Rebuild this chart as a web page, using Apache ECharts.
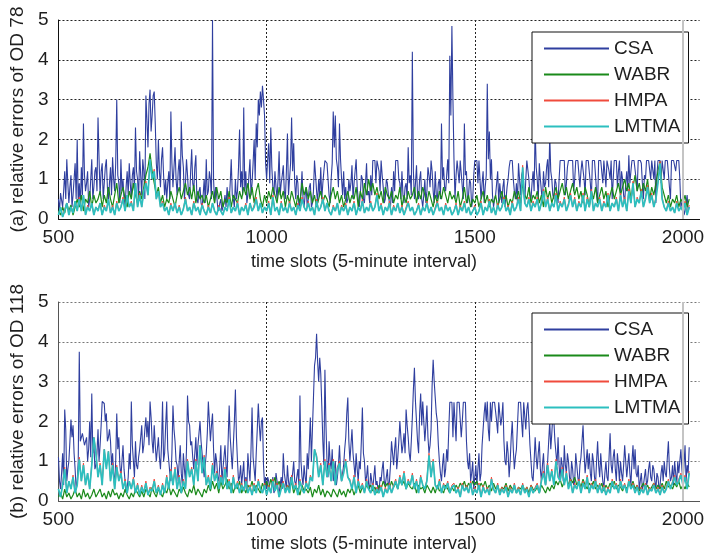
<!DOCTYPE html>
<html><head><meta charset="utf-8">
<script src="https://cdn.jsdelivr.net/npm/echarts@6/dist/echarts.min.js"></script>
<style>html,body{margin:0;padding:0;background:#fff}#c{width:707px;height:554px}</style>
</head><body><div id="c"></div>
<script>
// time slots: first slot and sampling step (every 5th slot; CSA also read half-way between)
const slotStart = 500;
const slotStep = 5;
const xTickValues = [500, 1000, 1500, 2000];
const seriesNames = ['CSA', 'WABR', 'HMPA', 'LMTMA'];
const yNames = ['(a) relative errors of OD 78', '(b) relative errors of OD 118'];
const xName = 'time slots (5-minute interval)';

// ---------- (a) OD 78 ----------
const csaA = [
0.5,0.65,0.3,1.2,1.5,0.4,1.1,0.6,1.4,2.0,
0.9,1.3,2.4,0.7,1.2,0.5,1.5,0.8,1.3,2.55,
0.6,1.4,0.9,1.5,0.4,1.3,1.55,0.7,3.0,0.9,
1.5,1.0,0.3,1.2,1.4,0.5,1.3,2.3,1.0,1.7,
0.6,1.2,3.1,1.8,3.25,2.6,3.2,1.4,2.0,0.8,
1.8,0.6,0.5,1.2,2.7,0.8,1.8,0.6,1.5,2.45,
1.3,0.9,1.1,0.5,1.75,0.7,1.6,0.4,0.8,0.3,
1.0,1.5,0.7,1.0,5.0,0.4,0.6,0.2,0.5,0.3,
0.6,0.8,0.4,1.5,0.5,1.0,0.7,2.25,1.2,2.8,
1.2,0.6,1.5,0.9,2.0,2.4,3.0,3.2,3.35,2.6,
1.0,1.9,2.3,0.8,1.2,0.5,1.7,0.9,1.35,0.5,
2.15,1.0,2.55,1.9,0.5,0.9,0.4,1.2,0.3,0.8,
0.5,0.9,0.4,1.47,0.7,1.0,1.3,0.9,1.47,1.4,
0.6,1.0,2.7,2.6,1.3,2.4,1.0,1.2,0.8,0.5,
0.7,1.35,0.9,1.5,0.5,0.6,1.0,0.4,1.4,0.7,
1.1,1.47,1.47,1.47,1.2,1.47,0.8,0.5,0.9,0.4,
0.8,1.2,1.47,1.47,0.9,1.2,0.4,0.9,1.8,1.1,
4.2,0.5,1.35,0.5,1.2,0.3,1.0,0.7,1.1,1.47,
0.7,1.2,0.5,1.0,2.4,1.3,0.7,1.5,4.1,4.85,
1.5,1.1,1.47,1.47,0.8,2.4,1.2,0.6,0.9,0.5,
1.47,1.47,1.47,0.5,1.2,0.8,3.4,2.2,1.5,0.3,
0.6,1.2,0.9,0.4,1.0,0.5,1.0,1.47,1.47,0.7,
0.9,1.4,0.6,1.2,0.4,1.47,1.0,0.5,1.2,2.3,
1.0,1.4,0.7,1.2,0.9,1.5,2.1,1.0,0.5,0.9,
0.4,1.47,1.47,1.47,0.9,1.47,1.47,1.47,1.0,1.47,
1.47,1.2,1.47,0.6,1.47,1.47,0.5,1.47,1.47,0.4,
1.47,1.47,1.47,0.8,1.47,1.0,0.5,1.47,1.47,1.2,
0.6,1.0,0.4,1.2,1.6,1.2,1.47,1.47,0.7,1.47,
1.4,0.5,1.0,1.47,1.47,1.47,1.0,0.4,1.47,1.47,
1.47,1.0,1.47,1.47,0.5,1.47,1.47,1.47,1.47,0.3,
0.5,0.2,0.6,0.3
];
// CSA readings half-way between the slots above (502.5, 507.5, ...)
const csaAMid = [
0.2,0.6,0.7,0.5,0.9,0.8,0.3,1.0,0.5,0.4,
0.3,0.6,1.1,0.9,0.3,1.0,0.5,1.2,0.7,1.5,
1.2,0.5,1.3,0.8,0.9,0.6,1.0,1.4,1.1,0.4,
0.7,0.5,0.8,0.6,0.9,1.1,0.7,1.2,0.5,1.1,
1.5,0.5,2.5,2.9,2.2,3.1,2.4,1.0,1.2,1.5,
1.1,1.0,0.9,0.5,1.4,1.3,1.0,1.2,0.7,1.6,
0.5,1.5,0.6,1.2,0.9,1.3,0.5,0.7,0.4,0.6,
0.4,0.6,1.2,0.5,1.0,0.8,0.3,0.4,0.2,0.4,
0.3,0.5,0.9,0.6,0.3,0.5,1.3,0.8,0.6,0.7,
0.4,1.1,0.6,1.4,1.0,1.8,2.6,2.8,3.0,1.4,
1.5,0.9,1.3,0.6,0.8,1.0,0.6,1.1,0.7,1.2,
0.6,1.4,1.2,0.9,1.1,0.3,0.7,0.5,0.6,0.3,
0.8,0.3,0.7,1.1,0.4,0.6,0.5,1.2,1.47,1.0,
0.4,1.4,1.8,1.5,0.8,1.5,0.6,0.5,0.4,1.0,
0.9,0.5,1.2,0.8,0.3,1.1,0.5,0.9,0.6,0.4,
0.6,1.47,0.9,1.47,0.7,1.1,0.4,1.0,0.6,0.3,
0.4,0.7,1.47,1.0,0.5,0.6,0.8,0.5,0.9,0.6,
1.2,0.9,0.6,1.0,0.5,0.6,0.4,1.3,0.8,1.2,
0.4,0.6,0.9,0.5,1.0,0.8,1.1,0.9,2.6,3.0,
0.5,1.47,0.9,1.47,0.5,1.1,0.4,1.0,0.3,1.1,
1.47,0.9,1.47,0.9,0.4,1.1,1.5,1.0,0.6,0.5,
0.9,0.4,0.6,0.8,0.3,0.8,1.3,1.47,1.0,0.5,
0.4,1.0,1.1,0.7,1.0,1.47,0.6,0.9,0.7,1.3,
0.5,1.0,0.4,0.8,1.3,0.8,1.2,0.6,1.0,0.6,
1.0,1.47,1.47,0.6,1.3,1.47,1.47,0.7,1.47,1.47,
0.8,1.47,1.0,1.47,1.47,0.9,1.47,1.47,0.7,1.47,
1.47,0.9,1.47,1.47,1.2,1.47,1.0,1.47,0.8,1.47,
1.2,0.6,0.9,0.7,0.9,1.47,1.47,1.0,1.47,1.47,
0.9,1.1,1.47,1.47,1.0,1.47,1.47,1.1,1.47,0.9,
1.47,1.47,1.47,0.8,1.47,1.47,1.2,1.47,1.0,0.4,
0.1,0.4,0.2
];
const wabrA = [
0.2,0.1,0.3,0.15,0.4,0.2,0.35,0.1,0.3,0.5,
0.3,0.6,0.2,0.5,0.4,0.7,0.3,0.6,0.4,0.5,
0.7,0.3,0.6,0.4,0.8,0.5,0.3,0.6,0.9,0.4,
0.6,0.8,0.5,0.3,0.7,0.5,0.9,0.6,0.4,0.7,
0.5,0.8,1.1,1.3,1.65,1.2,0.9,0.6,0.8,0.4,
0.6,0.3,0.5,0.4,0.7,0.5,0.3,0.6,0.8,0.5,
0.7,0.9,0.6,0.8,0.5,0.85,0.4,0.7,0.5,0.6,
0.4,0.6,0.3,0.5,0.7,0.4,0.8,0.5,0.7,0.3,
0.5,0.4,0.7,0.3,0.6,0.5,0.4,0.7,0.5,0.8,
0.6,0.9,0.5,0.8,0.4,0.7,0.9,0.5,0.3,0.6,
0.4,0.7,0.5,0.8,0.6,0.4,0.8,0.5,0.7,0.3,
0.6,0.4,0.7,0.5,0.3,0.6,0.4,0.9,0.6,0.8,
0.5,0.7,0.4,0.6,0.3,0.5,0.7,0.4,0.6,0.5,
0.3,0.6,0.8,0.5,0.7,0.4,0.6,0.3,0.5,0.7,
0.4,0.6,0.5,0.8,0.3,0.7,0.5,0.9,0.6,1.0,
0.7,0.9,0.6,0.8,0.5,0.7,0.4,0.8,0.6,0.5,
0.7,0.4,0.6,0.5,0.8,0.3,0.6,0.4,0.7,0.5,
0.6,0.8,0.4,0.7,0.5,0.8,0.6,0.4,0.7,0.5,
0.3,0.6,0.4,0.7,0.5,0.8,0.6,0.4,0.7,0.5,
0.6,0.4,0.7,0.3,0.5,0.8,0.4,0.6,0.3,0.5,
0.4,0.6,0.3,0.5,0.7,0.4,0.6,0.3,0.5,0.4,
0.6,0.3,0.5,0.7,0.4,0.6,0.3,0.5,0.4,0.7,
0.5,0.7,0.4,0.9,0.6,0.5,0.8,0.4,0.6,0.5,
0.7,0.4,0.6,0.3,0.8,0.5,0.7,0.4,0.6,0.8,
0.5,0.7,0.9,0.6,0.8,0.5,0.7,0.9,0.6,0.8,
0.5,0.7,0.4,0.8,0.6,0.3,0.7,0.5,0.8,0.4,
0.6,0.8,0.5,0.7,0.3,0.6,0.8,0.5,0.7,0.9,
0.6,0.8,1.0,0.7,0.9,0.5,0.8,1.1,0.7,0.9,
0.6,0.9,0.7,1.0,0.5,0.8,0.6,0.9,1.2,1.45,
0.8,0.6,0.4,0.6,0.3,0.5,0.4,0.6,0.3,0.5,
0.4,0.6,0.3,0.5
];
const hmpaA = [
0.1,0.3,0.05,0.25,0.4,0.1,0.3,0.2,0.45,0.2,
0.55,0.2,0.6,0.1,0.35,0.2,0.4,0.1,0.3,0.25,
0.4,0.1,0.35,0.2,0.5,0.15,0.35,0.1,0.45,0.2,
0.3,0.55,0.2,0.6,0.3,0.45,0.2,0.9,0.3,0.65,
0.3,0.7,0.95,0.6,1.5,1.0,1.25,0.5,0.7,0.3,
0.45,0.2,0.3,0.1,0.4,0.2,0.4,0.15,0.35,0.1,
0.25,0.55,0.2,0.3,0.1,0.45,0.2,0.3,0.1,0.4,
0.2,0.1,0.35,0.15,0.4,0.2,0.1,0.35,0.2,0.1,
0.3,0.2,0.55,0.15,0.3,0.2,0.45,0.1,0.3,0.2,
0.4,0.1,0.4,0.2,0.35,0.55,0.2,0.4,0.15,0.3,
0.2,0.45,0.1,0.6,0.2,0.3,0.1,0.45,0.2,0.3,
0.15,0.45,0.2,0.3,0.1,0.4,0.2,0.55,0.3,0.2,
0.45,0.2,0.3,0.1,0.5,0.2,0.3,0.55,0.2,0.4,
0.2,0.1,0.35,0.2,0.4,0.1,0.35,0.2,0.4,0.1,
0.3,0.2,0.45,0.1,0.3,0.2,0.5,0.15,0.3,0.2,
0.45,0.2,0.3,0.65,0.2,0.4,0.1,0.3,0.2,0.45,
0.1,0.35,0.2,0.4,0.15,0.35,0.1,0.3,0.45,0.2,
0.3,0.1,0.2,0.4,0.1,0.3,0.2,0.45,0.15,0.3,
0.1,0.3,0.45,0.2,0.3,0.1,0.4,0.2,0.3,0.1,
0.2,0.4,0.1,0.35,0.2,0.45,0.15,0.3,0.1,0.2,
0.35,0.1,0.2,0.45,0.1,0.3,0.2,0.5,0.15,0.3,
0.1,0.4,0.2,0.3,0.55,0.2,0.35,0.1,0.45,0.2,
0.3,0.55,0.2,1.35,0.4,0.3,0.55,0.2,0.45,0.3,
0.55,0.2,0.4,0.75,0.3,0.55,0.2,0.4,0.3,0.65,
0.2,0.45,0.3,0.55,0.2,0.4,0.65,0.3,0.55,0.2,
0.45,0.3,0.65,0.2,0.55,0.3,0.75,0.2,0.4,0.3,
0.55,0.2,0.45,0.3,0.65,0.2,0.4,0.3,0.55,0.2,
0.65,0.3,0.55,0.2,0.75,0.4,0.95,0.3,0.55,0.4,
0.75,0.3,0.55,0.85,0.4,0.65,0.3,0.55,0.95,1.45,
0.55,0.3,0.2,0.45,0.2,0.3,0.15,0.45,0.2,0.3,
0.2,0.45,0.1,0.35
];
const lmtmaA = [
0.1,0.3,0.05,0.2,0.4,0.1,0.3,0.15,0.45,0.2,
0.5,0.2,0.6,0.1,0.3,0.2,0.4,0.1,0.3,0.2,
0.4,0.1,0.3,0.2,0.5,0.15,0.3,0.1,0.4,0.2,
0.3,0.5,0.2,0.6,0.3,0.4,0.2,0.9,0.3,0.6,
0.3,0.7,0.9,0.6,1.5,1.0,1.2,0.5,0.7,0.3,
0.4,0.2,0.3,0.1,0.35,0.2,0.4,0.15,0.3,0.1,
0.25,0.5,0.2,0.3,0.1,0.4,0.2,0.3,0.1,0.35,
0.2,0.1,0.3,0.15,0.4,0.2,0.1,0.3,0.2,0.1,
0.3,0.2,0.5,0.15,0.3,0.2,0.4,0.1,0.3,0.2,
0.35,0.1,0.4,0.2,0.3,0.5,0.2,0.4,0.15,0.3,
0.2,0.4,0.1,0.55,0.2,0.3,0.1,0.4,0.2,0.3,
0.15,0.4,0.2,0.3,0.1,0.35,0.2,0.5,0.3,0.2,
0.4,0.2,0.3,0.1,0.45,0.2,0.3,0.5,0.2,0.4,
0.2,0.1,0.3,0.2,0.4,0.1,0.3,0.2,0.35,0.1,
0.3,0.2,0.4,0.1,0.3,0.2,0.45,0.15,0.3,0.2,
0.4,0.2,0.3,0.6,0.2,0.35,0.1,0.3,0.2,0.4,
0.1,0.3,0.2,0.4,0.15,0.3,0.1,0.25,0.4,0.2,
0.3,0.1,0.2,0.35,0.1,0.3,0.2,0.4,0.15,0.3,
0.1,0.25,0.4,0.2,0.3,0.1,0.35,0.2,0.3,0.1,
0.2,0.35,0.1,0.3,0.2,0.4,0.15,0.3,0.1,0.2,
0.3,0.1,0.2,0.4,0.1,0.3,0.2,0.45,0.15,0.3,
0.1,0.35,0.2,0.3,0.5,0.2,0.3,0.1,0.4,0.2,
0.3,0.5,0.2,1.3,0.4,0.3,0.5,0.2,0.4,0.3,
0.5,0.2,0.4,0.7,0.3,0.5,0.2,0.4,0.3,0.6,
0.2,0.4,0.3,0.5,0.2,0.35,0.6,0.3,0.5,0.2,
0.4,0.3,0.6,0.2,0.5,0.3,0.7,0.2,0.4,0.3,
0.5,0.2,0.4,0.3,0.6,0.2,0.4,0.3,0.5,0.2,
0.6,0.3,0.5,0.2,0.7,0.4,0.9,0.3,0.5,0.4,
0.7,0.3,0.5,0.8,0.4,0.6,0.3,0.5,0.9,1.4,
0.5,0.3,0.2,0.4,0.2,0.3,0.15,0.4,0.2,0.3,
0.2,0.4,0.1,0.3
];

// ---------- (b) OD 118 ----------
const csaB = [
1.1,0.3,1.2,2.3,0.5,1.0,2.05,1.9,0.8,0.5,
3.75,1.6,1.75,1.5,1.0,2.0,2.7,1.5,0.9,1.8,
1.4,2.5,2.45,2.2,1.6,1.5,1.2,0.4,2.2,1.6,
0.6,1.4,0.5,0.3,1.2,2.5,1.0,1.5,0.8,1.3,
1.9,1.4,2.1,2.0,2.5,1.5,1.9,1.0,1.6,0.8,
2.5,1.2,2.5,1.0,0.5,2.4,1.5,0.9,1.0,0.7,
1.2,0.5,2.65,1.9,1.5,0.8,1.6,1.4,2.0,1.2,
0.6,1.2,2.5,1.5,2.2,0.7,1.0,0.5,1.4,0.8,
1.4,0.6,2.4,1.2,1.4,2.8,1.0,0.6,0.4,1.0,
0.6,1.2,0.5,2.35,0.8,1.2,2.45,1.5,2.1,0.4,
0.3,0.5,0.2,0.6,0.3,0.5,0.2,0.6,1.2,0.5,
0.9,0.3,0.5,1.0,0.4,0.8,2.65,0.6,0.9,0.4,
0.8,2.1,1.8,3.4,4.2,3.0,3.2,1.5,3.3,1.0,
1.5,0.8,0.5,1.0,0.6,1.4,0.5,0.9,1.6,2.6,
1.0,1.8,0.9,1.2,0.5,0.8,2.35,1.0,0.6,0.4,
0.7,0.3,0.9,0.5,0.2,0.5,1.0,0.4,0.8,0.5,
1.5,0.9,1.6,1.1,2.0,1.2,1.7,2.3,1.6,1.0,
2.1,3.35,2.0,1.2,2.7,2.5,1.5,2.4,1.2,1.8,
3.55,2.6,2.0,1.0,0.5,1.2,0.8,1.0,2.48,2.48,
2.48,1.5,2.48,2.48,2.0,2.48,1.5,0.8,0.5,1.0,
0.6,0.4,1.2,0.7,1.8,2.48,2.5,1.5,2.0,2.48,
2.48,1.7,2.48,2.1,1.5,0.9,1.2,1.0,2.0,0.8,
1.3,2.48,2.48,1.6,2.48,2.3,2.0,1.0,0.5,1.6,
0.8,1.5,0.5,1.2,0.4,1.0,2.0,1.7,2.0,1.2,
1.6,0.5,0.9,1.4,0.7,1.0,0.4,0.8,0.5,0.9,
0.4,1.1,1.9,0.7,1.3,1.2,0.5,1.0,0.4,1.5,
0.6,0.8,0.3,1.0,0.5,1.7,0.7,1.3,0.5,0.9,
1.0,0.5,1.4,0.6,1.2,0.4,1.4,1.3,0.6,0.3,
0.7,0.4,0.8,0.5,1.0,0.5,0.8,0.3,0.6,0.4,
0.9,1.0,0.6,1.5,0.5,0.9,1.0,0.4,0.7,1.3,
0.5,1.4,0.9,1.35
];
const csaBMid = [
0.5,0.7,0.4,1.8,0.8,1.5,1.6,1.2,0.3,1.0,
1.5,1.7,1.4,1.6,1.3,1.1,1.2,0.8,1.2,1.0,
1.9,2.48,2.0,1.5,1.8,0.9,0.7,1.0,1.3,0.9,
1.0,0.8,0.2,0.6,0.8,1.4,0.6,0.9,1.1,1.6,
1.2,1.8,1.6,1.4,2.1,1.2,1.4,1.3,1.1,1.4,
1.0,1.9,1.3,0.7,1.2,1.8,1.0,0.5,1.4,0.4,
0.8,1.3,2.0,1.4,1.1,1.2,0.9,1.7,1.5,0.9,
0.9,1.7,2.55,1.9,1.3,1.2,0.6,0.9,0.5,1.1,
0.9,1.5,1.6,0.8,2.0,1.6,0.5,0.9,0.7,0.3,
0.3,0.8,1.3,1.1,0.5,1.8,1.9,2.0,0.9,0.6,
0.6,0.3,0.4,0.2,0.7,0.3,0.4,0.3,0.7,0.3,
0.5,0.6,0.7,0.5,0.6,0.4,1.0,0.4,0.6,1.2,
1.4,1.0,2.6,3.6,3.5,3.6,2.4,0.9,1.9,0.6,
1.0,1.3,0.8,0.4,0.9,0.8,0.7,1.3,2.2,1.5,
1.4,1.2,0.6,0.8,1.0,1.5,1.2,0.5,0.9,0.3,
0.5,0.6,0.4,0.3,0.6,0.8,0.5,0.6,0.3,0.9,
1.2,1.3,0.8,1.5,1.6,1.4,1.2,1.9,1.2,1.5,
2.8,2.5,1.5,2.2,1.9,2.0,1.9,1.6,1.4,2.9,
3.0,2.2,1.4,0.7,0.9,0.6,1.3,1.8,2.48,1.6,
2.48,2.48,2.48,1.6,2.48,2.48,1.0,1.2,0.7,0.3,
0.9,0.8,0.5,1.4,2.2,2.0,1.8,2.48,2.48,2.48,
2.0,2.48,1.9,2.48,1.0,1.5,0.6,1.6,1.3,1.1,
1.9,2.48,2.0,2.48,1.8,2.48,1.4,0.6,1.0,1.1,
1.2,0.8,0.9,0.6,0.8,1.5,1.3,2.2,1.5,0.9,
0.9,1.1,0.5,0.9,1.2,0.6,1.0,0.4,1.2,0.6,
0.9,1.5,1.2,1.0,0.8,0.7,1.2,0.6,1.0,0.9,
1.2,0.5,0.7,0.6,1.1,0.9,1.1,0.8,1.2,0.5,
0.7,0.9,1.0,0.9,0.7,1.0,0.8,0.7,0.9,0.5,
0.3,0.6,0.4,0.8,0.6,0.9,0.5,0.7,0.3,0.7,
0.5,0.7,1.1,0.8,0.6,0.4,0.7,1.0,1.0,0.8,
0.9,0.5,0.7
];
const wabrB = [
0.1,0.2,0.05,0.3,0.1,0.2,0.05,0.15,0.3,0.1,
0.2,0.05,0.3,0.1,0.2,0.05,0.15,0.3,0.1,0.2,
0.3,0.1,0.2,0.05,0.25,0.1,0.3,0.15,0.2,0.05,
0.2,0.1,0.3,0.15,0.05,0.2,0.1,0.3,0.2,0.1,
0.25,0.1,0.3,0.2,0.1,0.35,0.2,0.1,0.3,0.2,
0.1,0.3,0.2,0.4,0.15,0.3,0.2,0.1,0.3,0.2,
0.35,0.2,0.1,0.3,0.2,0.4,0.15,0.3,0.2,0.1,
0.3,0.2,0.4,0.25,0.5,0.3,0.45,0.2,0.5,0.3,
0.4,0.55,0.3,0.45,0.2,0.4,0.3,0.5,0.2,0.35,
0.2,0.4,0.3,0.5,0.25,0.4,0.3,0.2,0.45,0.3,
0.5,0.3,0.55,0.4,0.6,0.35,0.5,0.3,0.45,0.25,
0.4,0.3,0.5,0.2,0.35,0.3,0.15,0.4,0.25,0.3,
0.2,0.35,0.1,0.3,0.2,0.4,0.15,0.3,0.1,0.25,
0.2,0.1,0.3,0.2,0.1,0.3,0.15,0.25,0.1,0.3,
0.2,0.35,0.15,0.3,0.4,0.2,0.35,0.25,0.4,0.3,
0.4,0.25,0.35,0.2,0.4,0.3,0.5,0.35,0.45,0.3,
0.5,0.35,0.45,0.3,0.55,0.4,0.5,0.3,0.45,0.35,
0.3,0.45,0.2,0.4,0.3,0.35,0.2,0.4,0.3,0.2,
0.35,0.2,0.4,0.25,0.3,0.2,0.4,0.3,0.2,0.35,
0.25,0.4,0.3,0.45,0.35,0.5,0.3,0.45,0.35,0.5,
0.4,0.5,0.3,0.45,0.35,0.5,0.3,0.4,0.25,0.45,
0.3,0.4,0.2,0.35,0.3,0.45,0.25,0.4,0.3,0.35,
0.2,0.35,0.3,0.4,0.25,0.35,0.2,0.4,0.3,0.25,
0.35,0.2,0.4,0.3,0.2,0.35,0.25,0.4,0.3,0.5,
0.4,0.55,0.35,0.5,0.6,0.4,0.55,0.45,0.6,0.4,
0.5,0.35,0.55,0.4,0.3,0.45,0.35,0.5,0.3,0.4,
0.3,0.45,0.25,0.4,0.3,0.45,0.35,0.5,0.3,0.4,
0.35,0.25,0.4,0.3,0.45,0.35,0.5,0.3,0.4,0.25,
0.35,0.45,0.3,0.4,0.25,0.35,0.45,0.3,0.4,0.3,
0.45,0.3,0.5,0.35,0.4,0.3,0.45,0.35,0.5,0.3,
0.4,0.3,0.45,0.35
];
const hmpaB = [
0.3,0.1,0.45,0.85,0.2,0.5,0.3,0.65,0.2,0.4,
1.1,0.5,0.95,0.4,0.7,0.3,0.95,1.6,1.25,0.6,
0.95,0.4,1.3,0.85,1.25,0.5,0.95,0.3,0.9,0.5,
0.75,0.3,0.55,0.2,0.5,0.3,0.6,0.2,0.45,0.15,
0.4,0.2,0.5,0.15,0.35,0.25,0.55,0.2,0.4,0.15,
0.45,0.2,0.65,0.3,0.8,0.4,0.85,0.3,0.65,0.2,
0.55,0.3,1.05,0.6,0.85,0.4,1.05,0.5,1.4,0.7,
1.15,0.4,0.65,0.3,0.95,0.5,0.75,0.3,0.65,0.4,
0.85,0.3,0.55,0.2,0.65,0.3,0.5,0.2,0.45,0.25,
0.55,0.2,0.4,0.15,0.45,0.2,0.55,0.3,0.2,0.45,
0.15,0.4,0.2,0.55,0.25,0.45,0.1,0.35,0.5,0.2,
0.4,0.2,0.65,0.3,0.45,0.15,0.55,0.3,0.2,0.5,
0.3,0.65,0.5,1.3,1.15,0.6,0.95,0.4,1.05,0.6,
0.95,0.5,1.05,0.4,0.85,1.0,0.5,0.75,1.05,0.6,
0.55,0.3,0.65,0.2,0.55,0.3,0.45,0.2,0.55,0.3,
0.2,0.45,0.15,0.35,0.2,0.4,0.1,0.35,0.2,0.45,
0.2,0.4,0.55,0.3,0.65,0.4,0.75,0.3,0.55,0.4,
0.7,0.3,0.55,0.2,0.65,0.4,0.3,0.55,1.2,0.6,
1.05,0.4,0.3,0.55,0.2,0.45,0.3,0.5,0.2,0.4,
0.45,0.2,0.35,0.1,0.45,0.25,0.4,0.2,0.5,0.15,
0.35,0.2,0.45,0.1,0.4,0.2,0.35,0.15,0.6,0.3,
0.2,0.45,0.15,0.35,0.2,0.4,0.1,0.35,0.2,0.45,
0.2,0.35,0.15,0.45,0.2,0.35,0.1,0.4,0.2,0.35,
0.45,0.2,0.55,0.75,0.4,0.95,0.5,0.8,0.4,1.05,
0.65,0.5,0.85,0.4,0.75,0.3,0.55,0.2,0.45,0.3,
0.55,0.2,0.5,0.3,0.65,0.2,0.45,0.3,0.55,0.2,
0.45,0.2,0.4,0.15,0.35,0.2,0.55,0.3,0.45,0.2,
0.55,0.3,0.45,0.2,0.55,0.3,0.45,0.2,0.4,0.15,
0.35,0.2,0.45,0.15,0.35,0.25,0.45,0.2,0.35,0.15,
0.4,0.2,0.35,0.55,0.3,0.5,0.65,0.4,0.55,0.7,
0.45,0.65,0.3,0.75
];
const lmtmaB = [
0.3,0.1,0.4,0.8,0.2,0.5,0.3,0.6,0.2,0.4,
1.05,0.5,0.9,0.4,0.7,0.3,0.9,1.6,1.2,0.6,
0.9,0.4,1.3,0.8,1.25,0.5,0.9,0.3,0.85,0.5,
0.7,0.3,0.5,0.2,0.5,0.3,0.55,0.2,0.4,0.15,
0.35,0.2,0.45,0.15,0.3,0.25,0.5,0.2,0.35,0.15,
0.4,0.2,0.6,0.3,0.75,0.4,0.8,0.3,0.6,0.2,
0.5,0.3,1.0,0.6,0.8,0.4,1.0,0.5,1.4,0.7,
1.1,0.4,0.6,0.3,0.9,0.5,0.7,0.3,0.6,0.4,
0.8,0.3,0.5,0.2,0.6,0.3,0.45,0.2,0.4,0.25,
0.5,0.2,0.35,0.15,0.4,0.2,0.5,0.3,0.2,0.4,
0.15,0.35,0.2,0.5,0.25,0.4,0.1,0.3,0.45,0.2,
0.35,0.2,0.6,0.3,0.4,0.15,0.5,0.3,0.2,0.45,
0.3,0.6,0.5,1.3,1.1,0.6,0.9,0.4,1.0,0.6,
0.9,0.5,1.0,0.4,0.8,0.95,0.5,0.7,1.0,0.6,
0.5,0.3,0.6,0.2,0.5,0.3,0.4,0.2,0.5,0.3,
0.2,0.4,0.15,0.3,0.2,0.35,0.1,0.3,0.2,0.4,
0.2,0.35,0.5,0.3,0.6,0.4,0.7,0.3,0.5,0.4,
0.65,0.3,0.5,0.2,0.6,0.4,0.3,0.5,1.15,0.6,
1.0,0.4,0.3,0.5,0.2,0.4,0.3,0.45,0.2,0.35,
0.4,0.2,0.3,0.1,0.4,0.25,0.35,0.2,0.45,0.15,
0.3,0.2,0.4,0.1,0.35,0.2,0.3,0.15,0.55,0.3,
0.2,0.4,0.15,0.3,0.2,0.35,0.1,0.3,0.2,0.4,
0.2,0.3,0.15,0.4,0.2,0.3,0.1,0.35,0.2,0.3,
0.4,0.2,0.5,0.7,0.4,0.9,0.5,0.75,0.4,1.0,
0.6,0.5,0.8,0.4,0.7,0.3,0.5,0.2,0.4,0.3,
0.5,0.2,0.45,0.3,0.6,0.2,0.4,0.3,0.5,0.2,
0.4,0.2,0.35,0.15,0.3,0.2,0.5,0.3,0.4,0.2,
0.5,0.3,0.4,0.2,0.5,0.3,0.4,0.2,0.35,0.15,
0.3,0.2,0.4,0.15,0.3,0.25,0.4,0.2,0.3,0.15,
0.35,0.2,0.3,0.5,0.3,0.45,0.6,0.4,0.5,0.65,
0.4,0.6,0.3,0.7
];

const colors = {CSA:'#2f3f9f', WABR:'#1a8a1a', HMPA:'#f04b3c', LMTMA:'#2cbfbf'};
const widths = {CSA:1.1, WABR:1.2, HMPA:1, LMTMA:1.7};
const FONT = '"Liberation Sans", Arial, Helvetica, sans-serif';
const TXT = '#1e1e1e';

function toPairs(vals, mids){
  const out = [];
  vals.forEach((v, i) => {
    out.push([slotStart + i*slotStep, v]);
    if (mids && i < mids.length) out.push([slotStart + i*slotStep + slotStep/2, mids[i]]);
  });
  return out;
}

const panels = [
  {CSA:csaA, CSAmid:csaAMid, WABR:wabrA, HMPA:hmpaA, LMTMA:lmtmaA, top:20, height:199, gridColor:'#222', axisColor:'#111', legendTop:32},
  {CSA:csaB, CSAmid:csaBMid, WABR:wabrB, HMPA:hmpaB, LMTMA:lmtmaB, top:302, height:200, gridColor:'#777', axisColor:'#555', legendTop:313}
];

const grid=[], xAxis=[], yAxis=[], series=[], legend=[];
panels.forEach((p, k) => {
  grid.push({left:55, top:p.top, width:646, height:p.height});
  xAxis.push({
    type:'value', gridIndex:k, min:500, max:2040, interval:500,
    axisLine:{show:true, onZero:false, lineStyle:{color:p.axisColor, width:1}},
    axisTick:{show:false},
    axisLabel:{fontSize:19, color:TXT, fontFamily:FONT, margin:9, showMaxLabel:false,
      formatter:v => xTickValues.includes(v) ? String(v) : ''},
    splitLine:{show:true, showMinLine:false, showMaxLine:false, lineStyle:{color:'#222', type:[2,2], width:1}},
    name:xName, nameLocation:'middle', nameGap:34,
    nameTextStyle:{fontSize:18, color:TXT, fontFamily:FONT, padding:[0,30,0,0]}
  });
  yAxis.push({
    type:'value', gridIndex:k, min:0, max:5, interval:1,
    axisLine:{show:true, lineStyle:{color:p.axisColor, width:1}},
    axisTick:{show:false},
    axisLabel:{fontSize:19, color:TXT, fontFamily:FONT, margin:10},
    splitLine:{show:true, showMinLine:false, lineStyle:{color:p.gridColor, type:[2,2], width:1}},
    name:yNames[k], nameLocation:'middle', nameGap:31,
    nameTextStyle:{fontSize:19, color:TXT, fontFamily:FONT}
  });
  seriesNames.forEach(n => {
    series.push({
      name:n, type:'line', xAxisIndex:k, yAxisIndex:k,
      data: n === 'CSA' ? toPairs(p.CSA, p.CSAmid) : toPairs(p[n]),
      symbol:'none', showSymbol:false, animation:false, silent:true, z:2,
      lineStyle:{color:colors[n], width:widths[n]}, itemStyle:{color:colors[n]}
    });
  });
  // grey grid line at slot 2000
  series.push({
    name:'grid2000_'+k, type:'line', xAxisIndex:k, yAxisIndex:k, data:[], z:10, silent:true, animation:false,
    markLine:{symbol:'none', silent:true, animation:false, label:{show:false},
      lineStyle:{color:'#c4c4c4', type:'solid', width:2}, data:[{xAxis:2000}]}
  });
  legend.push({
    data:seriesNames, orient:'vertical', left:532, top:p.legendTop, z:4,
    itemWidth:65, itemHeight:14, itemGap:7, padding:[7,8,7,11],
    itemStyle:{opacity:0},
    backgroundColor:'#fff', borderColor:'#111', borderWidth:1, borderRadius:0,
    selectedMode:false, textStyle:{fontSize:19, color:TXT, fontFamily:FONT}
  });
});

const chart = echarts.init(document.getElementById('c'), null, {renderer:'canvas'});
chart.setOption({animation:false, backgroundColor:'#fff', grid, xAxis, yAxis, series, legend});
</script>
</body></html>
